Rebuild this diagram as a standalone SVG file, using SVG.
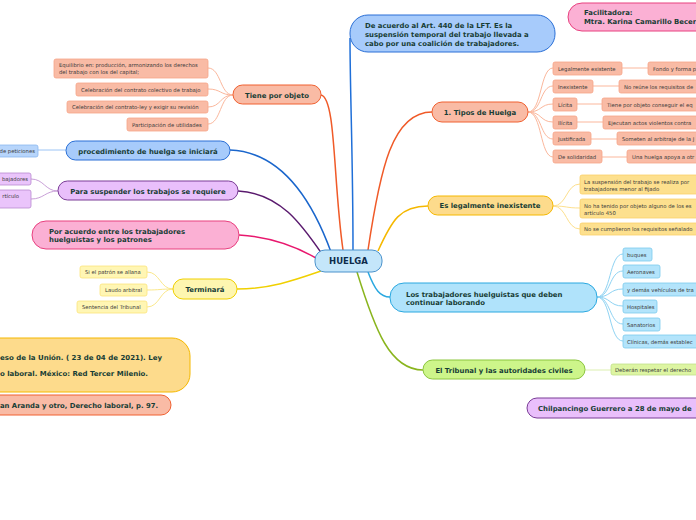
<svg xmlns="http://www.w3.org/2000/svg" width="696" height="520" viewBox="0 0 696 520">
<style>
.m{font-family:"DejaVu Sans",Verdana,sans-serif;font-weight:bold;font-size:6.9px;fill:#173d35}
.mc{text-anchor:middle}
.c{font-family:"DejaVu Sans",Verdana,sans-serif;font-size:5.3px;fill:#3a3a3a}
.or{fill:#f9bba5;stroke:#f06030;stroke-width:1}
.orc{fill:#f9bba5;stroke:#f6a488;stroke-width:0.8}
.bl{fill:#a7cbfb;stroke:#2a6fd6;stroke-width:1}
.blc{fill:#b7d5fb;stroke:#8ab8f0;stroke-width:0.8}
.pu{fill:#e9bffb;stroke:#7a3c96;stroke-width:1}
.puc{fill:#eac4fb;stroke:#b98ad0;stroke-width:0.8}
.pk{fill:#fbb0d4;stroke:#e8407f;stroke-width:1}
.ye{fill:#fef6b0;stroke:#f0d000;stroke-width:1}
.yec{fill:#fff6b4;stroke:#fbe57c;stroke-width:0.8}
.go{fill:#fddb8c;stroke:#f5b800;stroke-width:1}
.goc{fill:#fde08e;stroke:#fad06a;stroke-width:0.8}
.sk{fill:#b0e3fb;stroke:#2aa8e0;stroke-width:1}
.skc{fill:#b3e4fb;stroke:#7ccaee;stroke-width:0.8}
.gr{fill:#cdf58a;stroke:#8cc63e;stroke-width:1}
.grc{fill:#ddf5a2;stroke:#c2e08a;stroke-width:0.8}
.ln{fill:none;stroke-width:1.5}
.lc{fill:none;stroke-width:1}
</style>
<rect width="696" height="520" fill="#ffffff"/>
<g id="connectors">
<path class="ln" stroke="#1f6fd8" d="M353,250 C353,160 350,90 350,38"/>
<path class="ln" stroke="#f05a28" d="M368,250 C380,170 392,112 432,112"/>
<path class="ln" stroke="#f05a28" d="M321,95 C336,98 333,180 343,250"/>
<path class="ln" stroke="#f5b800" d="M378,251 C392,220 400,206 428,206"/>
<path class="ln" stroke="#2aa8e0" d="M368,272 C375,290 380,297 390,297"/>
<path class="ln" stroke="#8ab51e" d="M357,272 C375,330 390,370 423,370"/>
<path class="ln" stroke="#1a66cc" d="M230,150 C282,152 312,200 331,252"/>
<path class="ln" stroke="#5a1a6e" d="M238,191 C280,193 302,225 322,254"/>
<path class="ln" stroke="#e8186e" d="M239,235 C272,237 295,246 316,258"/>
<path class="ln" stroke="#f0d000" d="M237,289 C270,289 295,280 321,271"/>
<g stroke="#fbb79c">
<path class="lc" d="M528,112 C542,112 540,68 553,68"/>
<path class="lc" d="M528,112 C542,112 540,86 553,86"/>
<path class="lc" d="M528,112 C542,112 540,104 553,104"/>
<path class="lc" d="M528,112 C542,112 540,122 553,122"/>
<path class="lc" d="M528,112 C542,112 540,139 553,139"/>
<path class="lc" d="M528,112 C542,112 540,157 553,157"/>
<path class="lc" d="M622,68 H648 M593,86 H619 M577,104 H602 M577,122 H603 M591,139 H617 M602,157 H627"/>
<path class="lc" d="M233,95 C220,95 221,68 208,68"/>
<path class="lc" d="M233,95 C220,95 221,89 208,89"/>
<path class="lc" d="M233,95 C220,95 221,107 208,107"/>
<path class="lc" d="M233,95 C220,95 221,124 208,124"/>
</g>
<path class="lc" stroke="#fde08e" d="M553,206 C567,206 566,184 580,184 M553,206 C567,206 566,208 580,208 M553,206 C567,206 566,229 580,229"/>
<path class="lc" stroke="#8fd3f3" d="M597,297 C611,297 609,254 623,254 M597,297 C611,297 609,271 623,271 M597,297 C611,297 609,289 623,289 M597,297 C611,297 609,306 623,306 M597,297 C611,297 609,324 623,324 M597,297 C611,297 609,341 623,341"/>
<path class="lc" stroke="#dcefb0" d="M585,370 H611"/>
<path class="lc" stroke="#9cc4f5" d="M66,150 H38"/>
<path class="lc" stroke="#c9a0d8" d="M58,191 C45,191 44,179 31,179 M58,191 C45,191 44,199 31,199"/>
<path class="lc" stroke="#fbe88a" d="M173,289 C160,289 160,272 147,272 M173,289 C160,289 160,290 147,290 M173,289 C160,289 160,307 147,307"/>
</g>
<g id="huelga"><rect x="315" y="250" width="67" height="22" rx="10" fill="#c4e6fa" stroke="#4a92cc"/><text x="348.5" y="264" class="m mc" style="font-size:8.5px;fill:#0d2b4a">HUELGA</text></g>
<g id="definicion"><rect class="bl" x="350" y="15" width="205" height="37" rx="18"/>
<text class="m" x="365" y="27.5">De acuerdo al Art. 440 de la LFT. Es la</text>
<text class="m" x="365" y="36.5">suspensión temporal del trabajo llevada a</text>
<text class="m" x="365" y="45.5">cabo por una coalición de trabajadores.</text></g>
<g id="facilitadora"><rect class="pk" x="568" y="3" width="150" height="28" rx="14"/>
<text class="m" x="584" y="15">Facilitadora:</text><text class="m" x="584" y="23.5">Mtra. Karina Camarillo Becer</text></g>
<g id="tipos"><rect class="or" x="432" y="102" width="96" height="20" rx="10"/><text class="m mc" x="480" y="114.5">1. Tipos de Huelga</text></g>
<g id="tipos-hijos">
<rect class="orc" x="553" y="62" width="69" height="13" rx="2"/><text class="c" x="558" y="70.5">Legalmente existente</text>
<rect class="orc" x="648" y="62" width="60" height="13" rx="2"/><text class="c" x="653" y="70.5">Fondo y forma p</text>
<rect class="orc" x="553" y="80" width="40" height="13" rx="2"/><text class="c" x="558" y="88.5">Inexistente</text>
<rect class="orc" x="619" y="80" width="90" height="13" rx="2"/><text class="c" x="624" y="88.5">No reúne los requisitos de</text>
<rect class="orc" x="553" y="98" width="24" height="13" rx="2"/><text class="c" x="558" y="106.5">Lícita</text>
<rect class="orc" x="602" y="98" width="100" height="13" rx="2"/><text class="c" x="607" y="106.5">Tiene por objeto conseguir el eq</text>
<rect class="orc" x="553" y="116" width="24" height="13" rx="2"/><text class="c" x="558" y="124.5">Ilícita</text>
<rect class="orc" x="603" y="116" width="100" height="13" rx="2"/><text class="c" x="608" y="124.5">Ejecutan actos violentos contra</text>
<rect class="orc" x="553" y="132" width="38" height="13" rx="2"/><text class="c" x="558" y="140.5">Justificada</text>
<rect class="orc" x="617" y="132" width="90" height="13" rx="2"/><text class="c" x="622" y="140.5">Someten al arbitraje de la J</text>
<rect class="orc" x="553" y="150" width="49" height="13" rx="2"/><text class="c" x="558" y="158.5">De solidaridad</text>
<rect class="orc" x="627" y="150" width="80" height="13" rx="2"/><text class="c" x="632" y="158.5">Una huelga apoya a otr</text>
</g>
<g id="inexistente"><rect class="go" x="428" y="196" width="125" height="19" rx="9.5"/><text class="m mc" x="490" y="208">Es legalmente inexistente</text></g>
<g id="inexistente-hijos">
<rect class="goc" x="580" y="175" width="130" height="19" rx="2"/><text class="c" x="584" y="183.5">La suspensión del trabajo se realiza por</text><text class="c" x="584" y="190.5">trabajadores menor al fijado</text>
<rect class="goc" x="580" y="199" width="130" height="19" rx="2"/><text class="c" x="584" y="207.5">No ha tenido por objeto alguno de los es</text><text class="c" x="584" y="214.5">artículo 450</text>
<rect class="goc" x="580" y="223" width="130" height="12" rx="2"/><text class="c" x="584" y="231">No se cumplieron los requisitos señalado</text>
</g>
<g id="continuar"><rect class="sk" x="390" y="283" width="207" height="29" rx="14"/>
<text class="m" x="406" y="296.5">Los trabajadores huelguistas que deben</text><text class="m" x="406" y="305">continuar laborando</text></g>
<g id="continuar-hijos">
<rect class="skc" x="623" y="248" width="29" height="13" rx="2"/><text class="c" x="627" y="256.5">buques</text>
<rect class="skc" x="623" y="265" width="37" height="13" rx="2"/><text class="c" x="627" y="273.5">Aeronaves</text>
<rect class="skc" x="623" y="283" width="80" height="13" rx="2"/><text class="c" x="627" y="291.5">y demás vehículos de tra</text>
<rect class="skc" x="623" y="300" width="34" height="13" rx="2"/><text class="c" x="627" y="308.5">Hospitales</text>
<rect class="skc" x="623" y="318" width="37" height="13" rx="2"/><text class="c" x="627" y="326.5">Sanatorios</text>
<rect class="skc" x="623" y="335" width="80" height="13" rx="2"/><text class="c" x="627" y="343.5">Clínicas, demás establec</text>
</g>
<g id="tribunal"><rect class="gr" x="423" y="360" width="162" height="19" rx="9.5"/><text class="m mc" x="504" y="372.5">El Tribunal y las autoridades civiles</text>
<rect class="grc" x="611" y="364" width="95" height="11" rx="2"/><text class="c" x="615" y="371.5">Deberán respetar el derecho</text></g>
<g id="fecha"><rect class="pu" x="527" y="398" width="190" height="20" rx="10"/><text class="m" x="538" y="410.5">Chilpancingo Guerrero a 28 de mayo de</text></g>
<g id="objeto"><rect class="or" x="233" y="85" width="88" height="19" rx="9.5"/><text class="m mc" x="277" y="97.5">Tiene por objeto</text></g>
<g id="objeto-hijos">
<rect class="orc" x="54" y="59" width="154" height="19" rx="2"/><text class="c" x="59" y="67">Equilibrio en: producción, armonizando los derechos</text><text class="c" x="59" y="74">del trabajo con los del capital;</text>
<rect class="orc" x="76" y="83" width="132" height="13" rx="2"/><text class="c" x="81" y="91.5">Celebración del contrato colectivo de trabajo</text>
<rect class="orc" x="67" y="101" width="141" height="12" rx="2"/><text class="c" x="72" y="109">Celebración del contrato-ley y exigir su revisión</text>
<rect class="orc" x="127" y="118" width="81" height="13" rx="2"/><text class="c" x="132" y="126.5">Participación de utilidades</text>
</g>
<g id="procedimiento"><rect class="bl" x="66" y="141" width="164" height="19" rx="9.5"/><text class="m mc" x="148" y="153.5">procedimiento de huelga se iniciará</text>
<rect class="blc" x="-20" y="145" width="58" height="12" rx="2"/><text class="c" x="35" y="153" text-anchor="end">de peticiones</text></g>
<g id="suspender"><rect class="pu" x="58" y="181" width="180" height="19" rx="9.5"/><text class="m mc" x="148" y="193.5">Para suspender los trabajos se requiere</text>
<rect class="puc" x="-20" y="173" width="51" height="12" rx="2"/><text class="c" x="28" y="181" text-anchor="end">bajadores</text>
<rect class="puc" x="-20" y="190" width="51" height="18" rx="2"/><text class="c" x="19" y="198" text-anchor="end">rtículo</text></g>
<g id="acuerdo"><rect class="pk" x="32" y="221" width="207" height="28" rx="14"/>
<text class="m" x="49" y="233.5">Por acuerdo entre los trabajadores</text><text class="m" x="49" y="242">huelguistas y los patrones</text></g>
<g id="terminara"><rect class="ye" x="173" y="279" width="64" height="20" rx="10"/><text class="m mc" x="205" y="291.5">Terminará</text>
<rect class="yec" x="80" y="266" width="67" height="12" rx="2"/><text class="c" x="85" y="274">Si el patrón se allana</text>
<rect class="yec" x="100" y="284" width="47" height="12" rx="2"/><text class="c" x="105" y="292">Laudo arbitral</text>
<rect class="yec" x="77" y="301" width="70" height="12" rx="2"/><text class="c" x="82" y="309">Sentencia del Tribunal</text></g>
<g id="referencia1"><rect class="go" x="-30" y="338" width="220" height="54" rx="18"/>
<text class="m" x="0" y="359.5" textLength="162" lengthAdjust="spacingAndGlyphs">eso de la Unión. ( 23 de 04 de 2021). Ley</text>
<text class="m" x="0" y="376" textLength="148" lengthAdjust="spacingAndGlyphs">o laboral. México: Red Tercer Milenio.</text></g>
<g id="referencia2"><rect class="or" x="-30" y="395" width="201" height="20" rx="10"/>
<text class="m" x="0" y="407.5" textLength="158" lengthAdjust="spacingAndGlyphs">an Aranda y otro, Derecho laboral, p. 97.</text></g>
</svg>
